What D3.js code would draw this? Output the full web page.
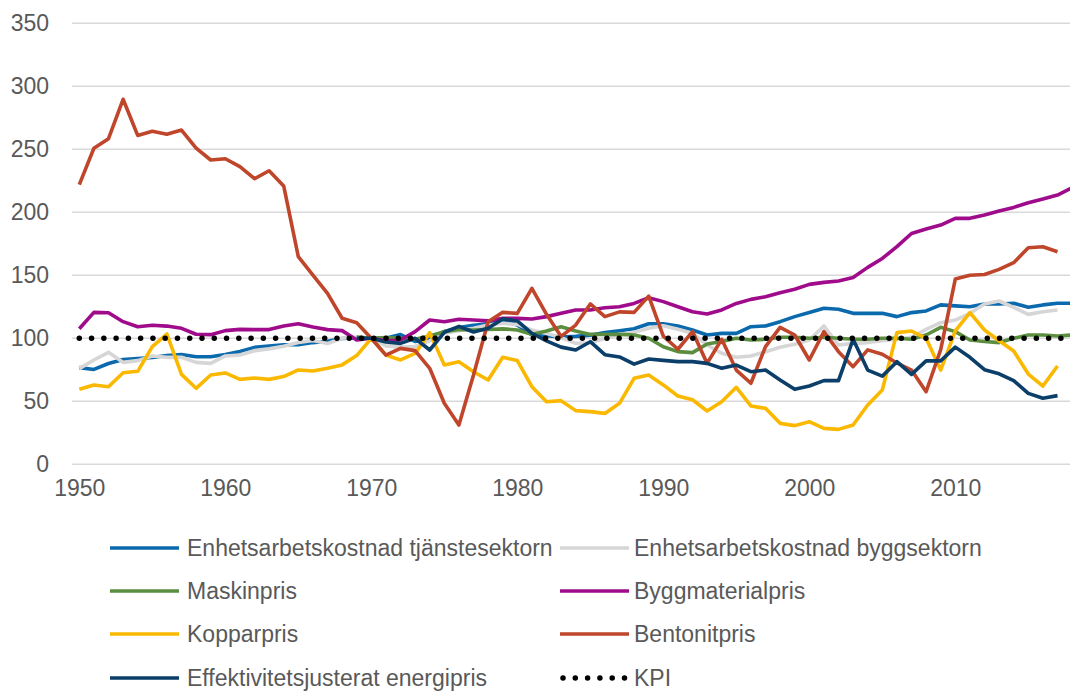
<!DOCTYPE html>
<html>
<head>
<meta charset="utf-8">
<script src="https://cdn.jsdelivr.net/npm/d3@7"></script>
<style>
  body { margin: 0; background: #fff; }
  svg { display: block; font-family: "Liberation Sans", Arial, sans-serif; }
</style>
</head>
<body>
<svg id="chart" width="1070" height="691"></svg>
<script>
/// Data (index 1970 = 100)

var years = d3.range(1950, 2019);
var yTicks = [0, 50, 100, 150, 200, 250, 300, 350];
var xTicks = [1950, 1960, 1970, 1980, 1990, 2000, 2010];

var tjanst = [76.7, 75.3, 80, 83.2, 84, 84.8, 86.4, 87.2, 85.3, 85.3,
  87.2, 89.6, 92.8, 93.9, 94.9, 95, 96.6, 97.7, 99.8, 100.3,
  100, 100, 103, 97.5, 99, 105.5, 108.5, 110.3, 111.5, 114,
  110.5, 102.6, 102, 101, 101.5, 102.5, 104.5, 106, 107.6, 111.5,
  111.6, 109.8, 106.6, 102.6, 103.9, 103.9, 109.2, 109.8, 113.2, 117.2,
  120.4, 123.8, 123, 119.8, 119.8, 119.8, 117.2, 120.4, 121.7, 126.5,
  125.7, 125.1, 127.2, 127.2, 127.8, 124.6, 126.5, 127.8, 127.8];

var bygg = [75.9, 82.8, 88.9, 80.9, 82.3, 86, 84.9, 84.9, 80.9, 80.1,
  86, 86.8, 90.2, 91.6, 93.7, 96.6, 98.2, 95.8, 100, 100.9,
  100, 94, 93, 93.5, 98, 104, 106, 108, 110.5, 111.9,
  111, 106.6, 103.9, 100.5, 96, 96.5, 100, 103, 104.7, 107.9,
  110, 107.1, 104, 94.7, 88.1, 84.9, 86, 89.4, 92.9, 95.2,
  98.6, 109.8, 94.7, 96, 96.6, 98.1, 99.2, 100.8, 107.1, 112.4,
  114.5, 119.8, 127.2, 129.6, 124.6, 119, 121.1, 122.5, null];

var maskin = [null, null, null, null, null, null, null, null, null, null,
  null, null, null, null, null, null, null, null, null, 101,
  100, 100.5, 100, 99.2, 101.8, 105.3, 107, 106.5, 107, 107.5,
  106.6, 103.1, 105.8, 109.2, 105.8, 103.1, 103.1, 103.1, 102.6, 100,
  93.3, 89.4, 88.6, 95.5, 97.4, 100, 98.6, 99.2, 100.8, 100.8,
  100, 100.8, 100, 99.2, 99.2, 100, 100, 99.2, 102.6, 108.7,
  105.3, 98.6, 97.4, 96.6, 100, 102.6, 102.6, 101.8, 102.6];

var byggmaterial = [107.6, 120.6, 120.3, 113.2, 109.2, 110.3, 109.7, 107.9, 103.2, 102.9,
  106.1, 107.1, 106.9, 106.9, 109.7, 111.6, 109, 106.9, 106.1, 98.7,
  100, 98.1, 98.6, 105.3, 114.5, 113.2, 115.1, 114.5, 113.8, 115.9,
  115.8, 115.3, 117.2, 119.8, 122.5, 122.5, 124.3, 125.1, 127.7, 132.2,
  129.1, 125.1, 121.1, 119.3, 122.5, 127.7, 130.9, 133, 136.2, 138.9,
  142.8, 144.4, 145.5, 148.2, 156.3, 163.4, 172.7, 183.2, 186.7, 189.9,
  195.2, 195.2, 197.8, 201, 203.9, 207.6, 210.5, 213.7, 219.5];

var koppar = [59.5, 63, 61.6, 72.7, 73.8, 93.4, 103.4, 71.4, 60.3, 70.9,
  72.5, 67.4, 68.5, 67.4, 69.6, 74.9, 74.1, 76.2, 78.9, 86.3,
  100, 86.7, 82.8, 88, 104.5, 78.8, 81.4, 73.5, 66.9, 84.9,
  82.3, 61.6, 49.7, 50.5, 42.6, 41.8, 40.4, 48.4, 68.2, 70.9,
  63, 54.2, 51.2, 42.3, 49.7, 61.1, 46.3, 44.4, 32.5, 30.7,
  33.8, 28.5, 27.7, 31.2, 47.1, 59, 104.5, 105.8, 100, 74.8,
  105.8, 120.4, 106.6, 98.1, 89.9, 71.6, 62.1, 78, null];

var bentonit = [222, 250.8, 258.4, 289.7, 261, 264.3, 262, 265.3, 251, 241.5,
  242.5, 236.2, 226.7, 233, 220.9, 164.8, 150.2, 135.7, 115.9, 112.4,
  100, 86.7, 92, 90.2, 76.2, 48.4, 31.2, 70.9, 113.2, 120.6,
  119.8, 139.6, 119, 101.5, 110.5, 127.3, 117.2, 121, 120.6, 133.5,
  101.7, 91.3, 105.3, 80.1, 99.2, 74.8, 64.3, 93.4, 108.7, 102.6,
  82.8, 105.3, 89.4, 77.5, 90.8, 87.3, 80.4, 74.8, 57.6, 91,
  147, 150, 150.6, 154.7, 160, 171.9, 172.7, 168.7, null];

var energi = [null, null, null, null, null, null, null, null, null, null,
  null, null, null, null, null, null, null, null, null, 100,
  100, 97, 96, 100, 90.7, 104.7, 109.5, 105, 108, 115.4,
  113.8, 104, 98, 93, 90.7, 97.3, 87, 85.2, 79.5, 83.6,
  82.5, 81.5, 81.5, 80.1, 76.2, 78.8, 73.5, 74.8, 66.9, 59.5,
  62.1, 66.4, 66.4, 99.2, 74.8, 70, 81.4, 71.4, 82.1, 82.1,
  93, 84.9, 75.1, 71.8, 66.4, 56.3, 52.4, 54.5, null];

var kpi = [100, 100, 100, 100, 100, 100, 100, 100, 100, 100,
  100, 100, 100, 100, 100, 100, 100, 100, 100, 100,
  100, 100, 100, 100, 100, 100, 100, 100, 100, 100,
  100, 100, 100, 100, 100, 100, 100, 100, 100, 100,
  100, 100, 100, 100, 100, 100, 100, 100, 100, 100,
  100, 100, 100, 100, 100, 100, 100, 100, 100, 100,
  100, 100, 100, 100, 100, 100, 100, 100, 100];

var seriesNames = ["Enhetsarbetskostnad tjänstesektorn", "Enhetsarbetskostnad byggsektorn",
  "Maskinpris", "Byggmaterialpris", "Kopparpris", "Bentonitpris",
  "Effektivitetsjusterat energipris", "KPI"];
var seriesValues = [tjanst, bygg, maskin, byggmaterial, koppar, bentonit, energi, kpi];
var seriesColors = ["#0b6aad", "#d6d6d6", "#5b8f3f", "#9f0b8b", "#fbb800", "#bf452b", "#0b3e69", "#000000"];


/// Scales

var svg = d3.select("#chart");
var textColor = "#595959";
var fontSize = 23;

var x = d3.scaleLinear().domain([1950, 2018]).range([79.3, 1072.1]);
var y = d3.scaleLinear().domain([0, 350]).range([464.3, 23.3]);

// gridlines
svg.append("g")
  .selectAll("line")
  .data(yTicks)
  .enter()
  .append("line")
  .attr("x1", 72)
  .attr("x2", 1080)
  .attr("y1", d => y(d))
  .attr("y2", d => y(d))
  .style("stroke", "#d9d9d9")
  .style("stroke-width", 1.6);

// y labels
var yAxis = d3.axisLeft(y).tickValues(yTicks).tickSize(0).tickPadding(0);
var gy = svg.append("g").attr("transform", "translate(49,0)").call(yAxis);
gy.select(".domain").remove();
gy.selectAll("text")
  .style("font-size", fontSize + "px")
  .style("font-family", "'Liberation Sans', Arial, sans-serif")
  .attr("fill", textColor);

// x labels
var xAxis = d3.axisBottom(x).tickValues(xTicks).tickFormat(d3.format("d")).tickSize(0).tickPadding(0);
var gx = svg.append("g").attr("transform", "translate(0,480)").call(xAxis);
gx.select(".domain").remove();
gx.selectAll("text")
  .style("font-size", fontSize + "px")
  .style("font-family", "'Liberation Sans', Arial, sans-serif")
  .attr("fill", textColor);


/// Lines

var line = d3.line()
  .defined(d => d[1] != null)
  .x(d => x(d[0]))
  .y(d => y(d[1]));

seriesValues.forEach(function (values, k) {
  var pts = years.map((yr, i) => [yr, values[i]]);
  var path = svg.append("path")
    .datum(pts)
    .attr("d", line)
    .style("fill", "none")
    .style("stroke", seriesColors[k])
    .style("stroke-linejoin", "round");
  if (k == 7) {
    path.style("stroke-width", 5.5)
      .style("stroke-linecap", "round")
      .style("stroke-dasharray", "0,12.27");
  } else {
    path.style("stroke-width", 3.6);
  }
});


/// Legend

var legendCols = [110, 560];
var legendRows = [548, 591, 634, 678];

var legend = svg.append("g")
  .selectAll("g")
  .data(seriesNames)
  .enter()
  .append("g")
  .attr("transform", (d, i) => "translate(" + legendCols[i % 2] + "," + legendRows[Math.floor(i / 2)] + ")");

legend.append("line")
  .attr("x1", (d, i) => i == 7 ? 3 : 0)
  .attr("x2", (d, i) => i == 7 ? 66 : 69)
  .attr("y1", 0)
  .attr("y2", 0)
  .style("stroke", (d, i) => seriesColors[i])
  .style("stroke-width", (d, i) => i == 7 ? 5.5 : 3.6)
  .style("stroke-linecap", (d, i) => i == 7 ? "round" : "butt")
  .style("stroke-dasharray", (d, i) => i == 7 ? "0,12.3" : null);

legend.append("text")
  .attr("x", (d, i) => i % 2 == 0 ? 77 : 74)
  .attr("y", 0)
  .attr("dy", "0.35em")
  .style("font-size", fontSize + "px")
  .attr("fill", textColor)
  .text(d => d);
</script>
</body>
</html>
